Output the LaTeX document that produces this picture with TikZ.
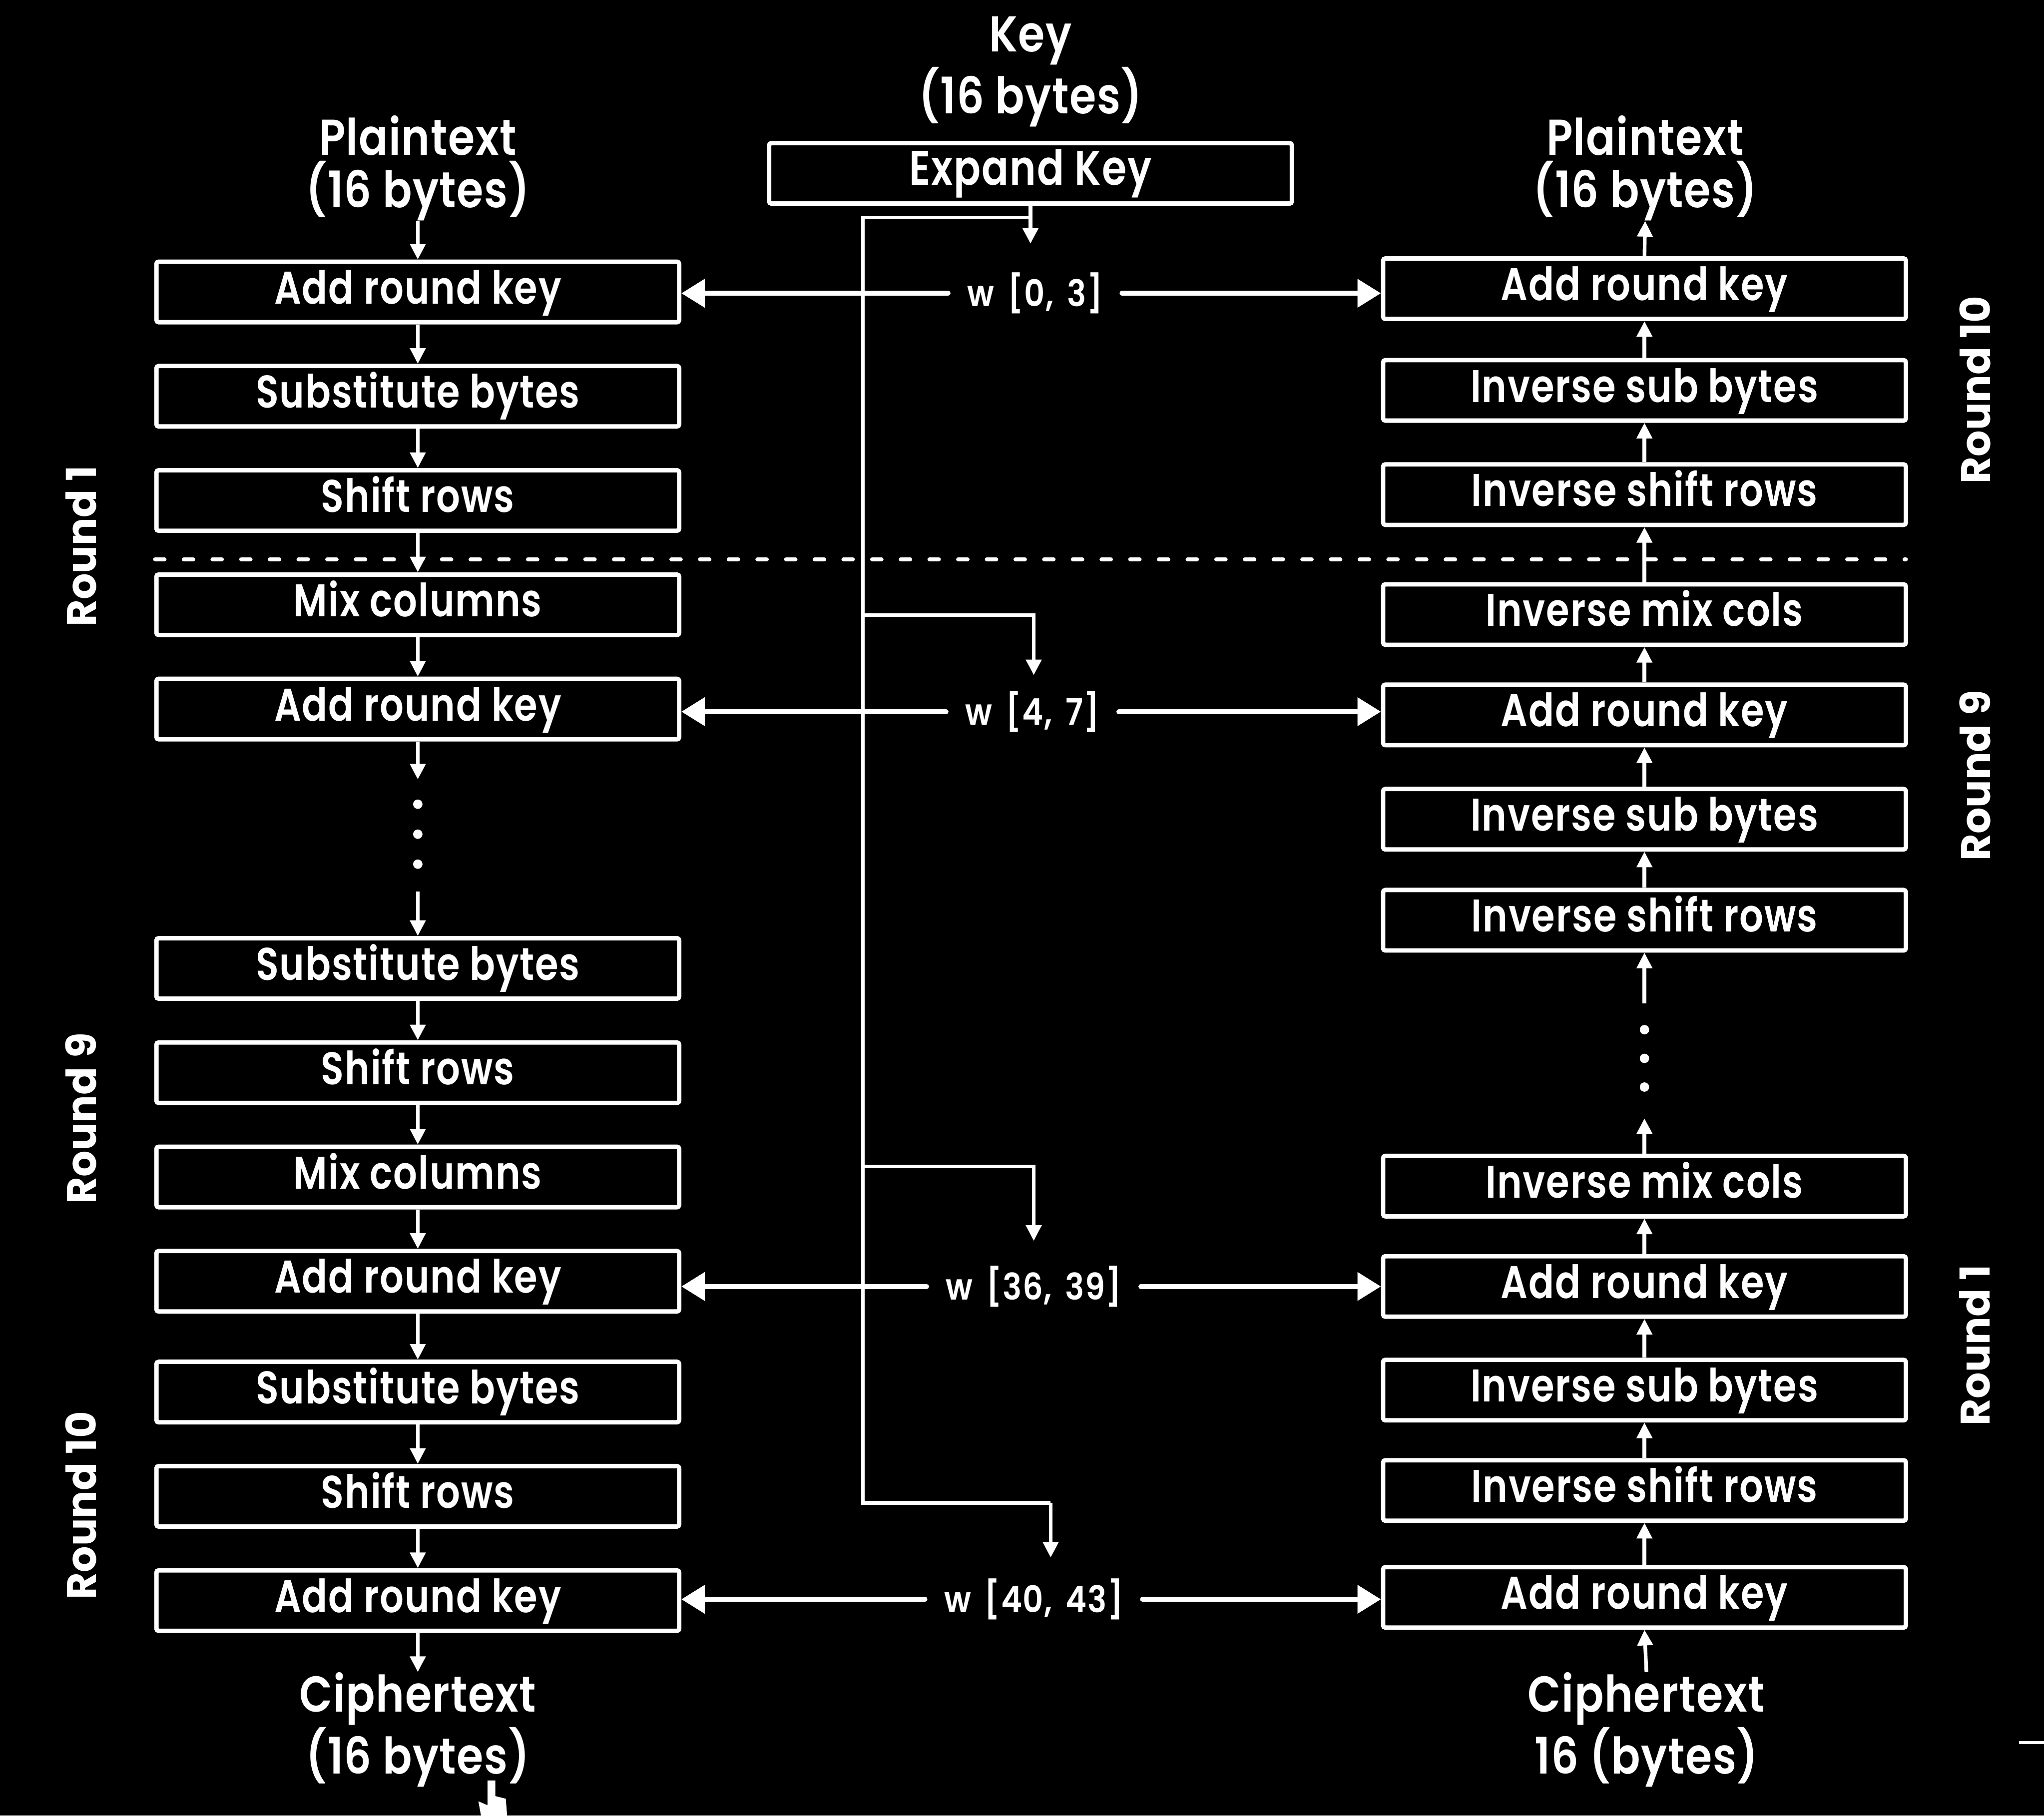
\documentclass[tikz,border=0pt]{standalone}
\usepackage{fontspec}
\setmainfont{Poppins}[UprightFont={* SemiBold}, BoldFont={* Bold}]
\newfontfamily\boxfont{Poppins}[UprightFont={* SemiBold}, FakeStretch=0.82, LetterSpace=2]
\newfontfamily\ttlfont{Poppins}[UprightFont={* SemiBold}, FakeStretch=0.855, LetterSpace=1.5]
\newfontfamily\roundfont{Poppins}[UprightFont={* Bold}]
\newfontfamily\wfont{Poppins}[UprightFont={* SemiBold}, FakeStretch=0.87, LetterSpace=2]
\newcommand{\wsp}{\hspace{0.14em} }
\usetikzlibrary{arrows.meta}
\begin{document}
\begin{tikzpicture}[x=0.25mm,y=-0.25mm,
  box/.style={draw=white, line width=2.4pt, rounded corners=1.2pt, minimum width=100.25mm, minimum height=11.6mm, inner sep=0pt, text=white, text height=18pt, text depth=5.2pt, font=\boxfont\fontsize{25}{28}\selectfont},
  ttl/.style={text=white, align=center, inner sep=0pt, font=\ttlfont\fontsize{27.5}{28.5}\selectfont},
  rnd/.style={text=white, rotate=90, inner sep=0pt, font=\roundfont\fontsize{22.5}{27}\selectfont},
  wlab/.style={text=white, inner xsep=3.6mm, inner ysep=0pt, font=\wfont\fontsize{20}{22}\selectfont},
  arr/.style={draw=white, line width=2pt, -{Triangle[length=3mm,width=2.9mm]}},
  bigarr/.style={draw=white, line width=2.6pt, line cap=round, -{Triangle[length=4.5mm,width=5.3mm]}},
  keyline/.style={draw=white, line width=2pt},
  dashsep/.style={draw=white, line width=2.2pt, line cap=round, dash pattern=on 1.8mm off 3.7mm},
  dot/.style={fill=white, circle, minimum size=1.8mm, inner sep=0pt}
]
\fill[black] (0,0) rectangle (1568,1393);
\useasboundingbox (0,0) rectangle (1568,1393);

% left column
\node[box] (l1) at (320.5,224) {Add round key};
\node[box] (l2) at (320.5,304) {Substitute bytes};
\node[box] (l3) at (320.5,384) {Shift rows};
\node[box] (l4) at (320.5,464) {Mix columns};
\node[box] (l5) at (320.5,544) {Add round key};
\node[box] (l6) at (320.5,743) {Substitute bytes};
\node[box] (l7) at (320.5,823) {Shift rows};
\node[box] (l8) at (320.5,903) {Mix columns};
\node[box] (l9) at (320.5,983) {Add round key};
\node[box] (l10) at (320.5,1068) {Substitute bytes};
\node[box] (l11) at (320.5,1148) {Shift rows};
\node[box] (l12) at (320.5,1228) {Add round key};

% right column
\node[box] (r1) at (1261.5,221.5) {Add round key};
\node[box] (r2) at (1261.5,299.5) {Inverse sub bytes};
\node[box] (r3) at (1261.5,379.5) {Inverse shift rows};
\node[box] (r4) at (1261.5,471.5) {Inverse mix cols};
\node[box] (r5) at (1261.5,548.5) {Add round key};
\node[box] (r6) at (1261.5,628.5) {Inverse sub bytes};
\node[box] (r7) at (1261.5,706) {Inverse shift rows};
\node[box] (r8) at (1261.5,910) {Inverse mix cols};
\node[box] (r9) at (1261.5,987) {Add round key};
\node[box] (r10) at (1261.5,1066.5) {Inverse sub bytes};
\node[box] (r11) at (1261.5,1143.5) {Inverse shift rows};
\node[box] (r12) at (1261.5,1225.5) {Add round key};

% key expansion
\node[box, font=\boxfont\fontsize{26.5}{28}\selectfont] (ek) at (790.5,133) {Expand Key};

% titles
\node[ttl] (ptl) at (320.5,129) {Plaintext\\(16 bytes)};
\node[ttl] (ptr) at (1262,129) {Plaintext\\(16 bytes)};
\node[ttl] (key) at (790.5,55) {Key\\(16 bytes)};
\node[ttl] (ctl) at (320.5,1327) {Ciphertext\\(16 bytes)};
\node[ttl] (ctr) at (1263,1327) {Ciphertext\\16 (bytes)};

% round labels
\node[rnd] (rl1) at (62,419) {Round 1};
\node[rnd] (rl9) at (62,858) {Round 9};
\node[rnd] (rl10) at (62,1155) {Round 10};
\node[rnd] (rr10) at (1515,299) {Round 10};
\node[rnd] (rr9) at (1515,595) {Round 9};
\node[rnd] (rr1) at (1515,1032) {Round 1};

% key word labels
\node[wlab] (w1) at (794,225) {w\wsp[0,\wsp3]};
\node[wlab] (w2) at (792,546) {w\wsp[4,\wsp7]};
\node[wlab] (w3) at (793,987) {w\wsp[36,\wsp39]};
\node[wlab] (w4) at (793,1227) {w\wsp[40,\wsp43]};

% coordinates of the key bus
\coordinate (kt) at (662,167);
\coordinate (kb) at (662,1153);
\coordinate (b2) at (662,472);
\coordinate (b3) at (662,895);
\coordinate (k1) at (790.5,187);
\coordinate (k2) at (793,518);
\coordinate (k3) at (793,952);
\coordinate (k4) at (806,1195);

\draw[keyline] (k1 |- kt) -- (kt) -- (kb) -- (kb -| k4);
\draw[arr] (ek.south) -- (k1);
\draw[arr] (b2) -- (b2 -| k2) -- (k2);
\draw[arr] (b3) -- (b3 -| k3) -- (k3);
\draw[arr] (kb -| k4) -- (k4);

% round key arrows
\draw[bigarr] (w1.west) -- (w1.west -| l1.east);
\draw[bigarr] (w1.east) -- (w1.east -| r1.west);
\draw[bigarr] (w2.west) -- (w2.west -| l5.east);
\draw[bigarr] (w2.east) -- (w2.east -| r5.west);
\draw[bigarr] (w3.west) -- (w3.west -| l9.east);
\draw[bigarr] (w3.east) -- (w3.east -| r9.west);
\draw[bigarr] (w4.west) -- (w4.west -| l12.east);
\draw[bigarr] (w4.east) -- (w4.east -| r12.west);

% dashed separator
\coordinate (dl) at (119,429);
\coordinate (dr) at (1462,429);
\draw[dashsep] (dl) -- (dr);

% left flow
\draw[arr] (ptl.south) -- (l1.north);
\draw[arr] (l1.south) -- (l2.north);
\draw[arr] (l2.south) -- (l3.north);
\draw[arr] (l3.south) -- (l4.north);
\draw[arr] (l4.south) -- (l5.north);
\coordinate (ld1) at (320.5,598);
\coordinate (ld2) at (320.5,684);
\draw[arr] (l5.south) -- (ld1);
\node[dot] (d1) at (320.5,617) {};
\node[dot] (d2) at (320.5,640) {};
\node[dot] (d3) at (320.5,663) {};
\draw[arr] (ld2) -- (l6.north);
\draw[arr] (l6.south) -- (l7.north);
\draw[arr] (l7.south) -- (l8.north);
\draw[arr] (l8.south) -- (l9.north);
\draw[arr] (l9.south) -- (l10.north);
\draw[arr] (l10.south) -- (l11.north);
\draw[arr] (l11.south) -- (l12.north);
\draw[arr] (l12.south) -- (ctl.north);

% right flow
\draw[arr] (r1.north) -- (ptr.south);
\draw[arr] (r2.north) -- (r1.south);
\draw[arr] (r3.north) -- (r2.south);
\draw[arr] (r4.north) -- (r3.south);
\draw[arr] (r5.north) -- (r4.south);
\draw[arr] (r6.north) -- (r5.south);
\draw[arr] (r7.north) -- (r6.south);
\coordinate (rd1) at (1261.5,770);
\coordinate (rd2) at (1261.5,858);
\draw[arr] (rd1) -- (r7.south);
\node[dot] (d4) at (1261.5,790) {};
\node[dot] (d5) at (1261.5,812) {};
\node[dot] (d6) at (1261.5,834) {};
\draw[arr] (r8.north) -- (rd2);
\draw[arr] (r9.north) -- (r8.south);
\draw[arr] (r10.north) -- (r9.south);
\draw[arr] (r11.north) -- (r10.south);
\draw[arr] (r12.north) -- (r11.south);
\draw[arr] (ctr.north) -- (r12.south);

% edge artefacts
\coordinate (tk1) at (1549,1337);
\coordinate (tk2) at (1568,1337);
\draw[white, line width=1.5pt] (tk1) -- (tk2);
\fill[white] (374,1366) -- (380,1366) -- (380,1378) -- (388,1380) -- (389,1393) -- (369,1393) -- (367,1382) -- (374,1385) -- cycle;
\end{tikzpicture}
\end{document}
